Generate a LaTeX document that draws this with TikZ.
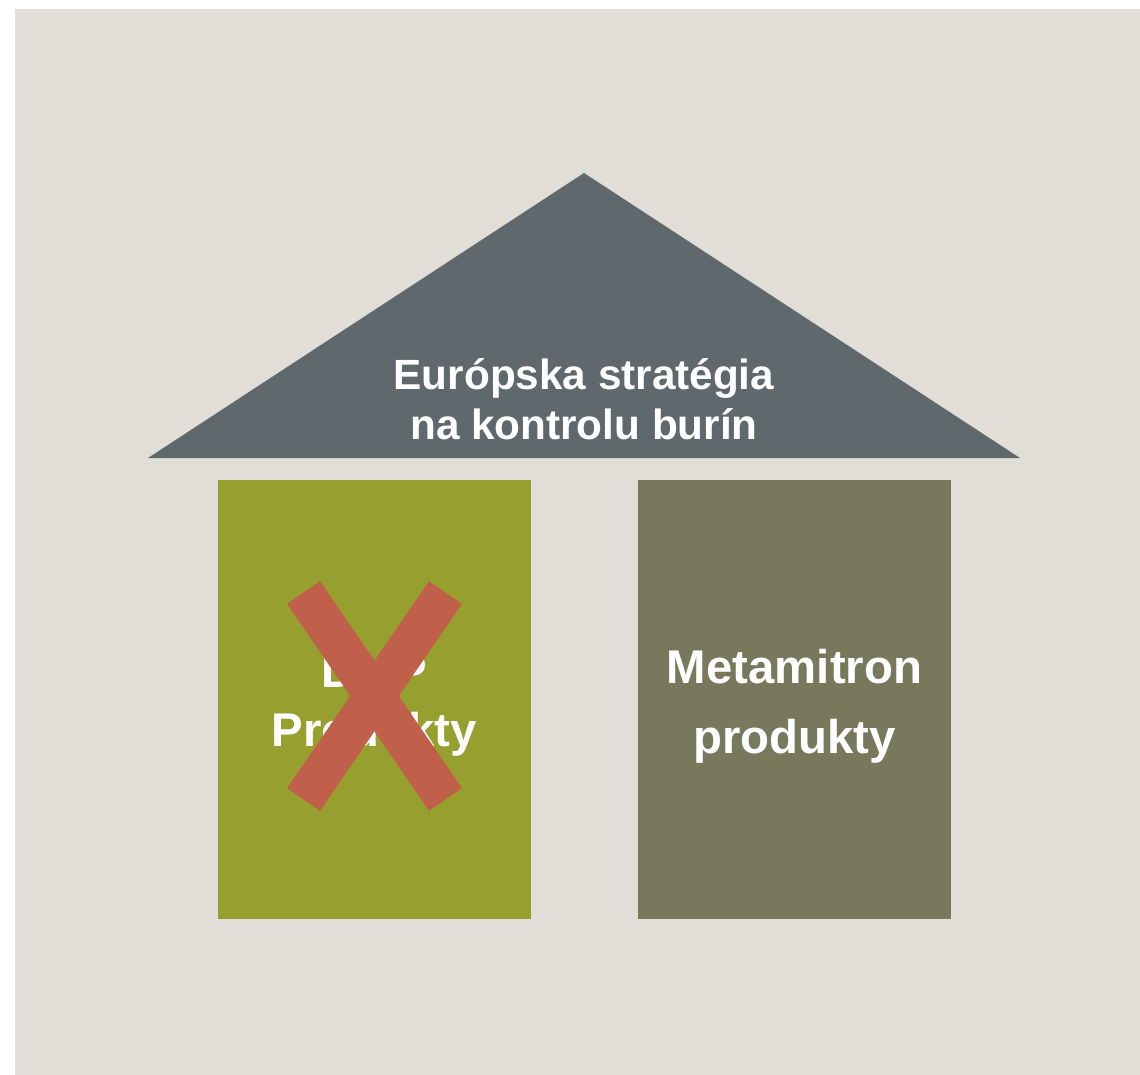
\documentclass[tikz,border=0pt]{standalone}
\usepackage{fontspec}
\setmainfont{Liberation Sans}
\definecolor{bgbeige}{HTML}{E1DED7}
\definecolor{roofgray}{HTML}{5F686D}
\definecolor{boxgreen}{HTML}{97A02E}
\definecolor{boxolive}{HTML}{78785C}
\definecolor{crossred}{HTML}{C0604A}
\begin{document}
\begin{tikzpicture}[x=0.75pt,y=-0.75pt,
  pillar/.style={draw=none,minimum width=313*0.75pt,minimum height=439*0.75pt,inner sep=0pt},
  pillartext/.style={text=white,font=\bfseries\fontsize{35.5}{#1}\selectfont,align=center},
  rooftext/.style={text=white,font=\bfseries\fontsize{31.7}{37.5}\selectfont,align=center},
  crossbar/.style={draw=crossred,line width=40*0.75pt,line cap=butt}]
\useasboundingbox (0,0) rectangle (1140,1075);
\fill[bgbeige] (15,9) rectangle (1140,1075);
% roof
\fill[roofgray] (584,173) -- (1020,458) -- (148,458) -- cycle;
\node[rooftext] (roof) at (584,399) {Európska stratégia\\na kontrolu burín};
% pillars
\node[pillar,fill=boxgreen,anchor=north west] (left) at (218,480) {};
\node[pillar,fill=boxolive,anchor=north west] (right) at (638,480) {};
\node[pillartext=44.25] (lefttext) at (374.5,706) {DMP\\Produkty};
\node[pillartext=52.5] (righttext) at (794.5,706.5) {Metamitron\\produkty};
% cross
\coordinate (c1) at (303.5,592.5);
\coordinate (c2) at (445.5,799.5);
\coordinate (c3) at (445.5,592.5);
\coordinate (c4) at (303.5,799.5);
\draw[crossbar] (c1) -- (c2);
\draw[crossbar] (c3) -- (c4);
\end{tikzpicture}
\end{document}
